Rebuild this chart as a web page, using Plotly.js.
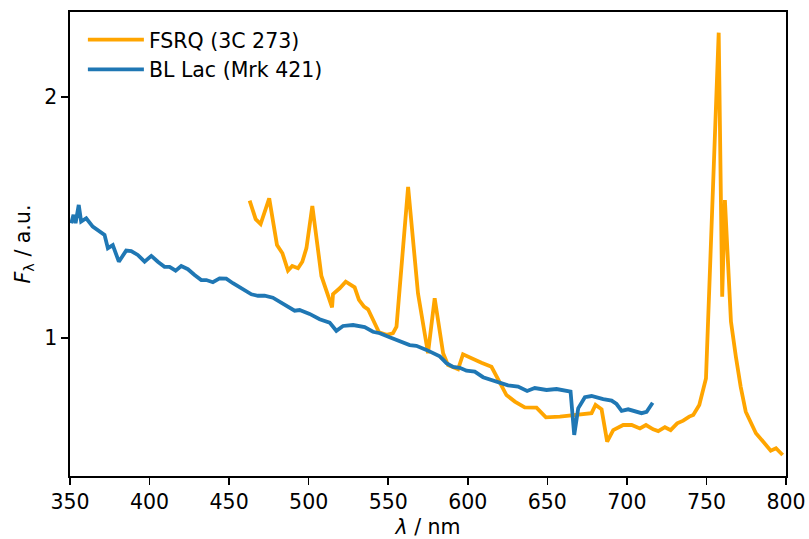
<!DOCTYPE html>
<html>
<head>
<meta charset="utf-8">
<script src="https://cdn.plot.ly/plotly-3.0.1.min.js"></script>
<style>html,body{margin:0;padding:0;background:#fff;}#chart{width:809px;height:539px;}</style>
</head>
<body>
<div id="chart"></div>
<script>
// BL Lac (Mrk 421)
const blWavelength = [350.75,352.2,353.5,354.3,355.5,357.0,360.2,364.3,367.5,371.7,373.8,376.9,380.7,385.3,388.5,392.6,396.9,401.1,405.2,409.4,412.6,416.4,419.9,424.1,428.3,432.5,435.7,439.8,444.0,448.2,452.4,456.6,459.7,464.0,468.1,472.3,477.5,481.8,487.0,491.2,494.3,500.6,506.9,513.2,517.4,521.6,527.9,535.2,540.4,544.7,550.9,557.2,563.5,567.7,574.0,582.4,586.6,590.8,595.0,599.2,604.4,609.6,613.8,620.1,625.3,631.6,637.3,642.1,649.5,655.8,661.0,664.6,666.9,669.4,673.6,677.8,685.1,690.4,693.5,696.7,700.8,705.0,709.2,712.4,716.2];
const blFlux = [1.476,1.511,1.477,1.517,1.552,1.483,1.497,1.462,1.448,1.428,1.373,1.386,1.317,1.363,1.361,1.345,1.317,1.341,1.317,1.296,1.296,1.280,1.299,1.286,1.262,1.241,1.241,1.232,1.248,1.247,1.228,1.211,1.200,1.182,1.176,1.176,1.168,1.151,1.128,1.114,1.117,1.101,1.079,1.065,1.031,1.051,1.055,1.046,1.027,1.021,1.004,0.986,0.972,0.969,0.952,0.925,0.897,0.882,0.878,0.866,0.862,0.839,0.830,0.816,0.805,0.800,0.782,0.794,0.786,0.790,0.782,0.779,0.600,0.710,0.756,0.761,0.748,0.742,0.728,0.700,0.706,0.696,0.690,0.696,0.733];

// FSRQ (3C 273)
const fsrqWavelength = [462.9,466.7,469.8,472.3,475.2,480.1,483.5,487.0,489.7,493.3,496.0,498.6,502.3,508.0,511.5,514.7,515.3,519.5,523.3,528.9,531.6,534.8,537.3,540.4,544.2,548.9,553.0,555.2,562.5,568.7,575.0,579.2,584.5,587.6,593.9,597.0,603.3,608.6,614.9,619.1,624.3,629.6,635.8,643.2,649.1,657.9,665.2,670.4,677.8,680.3,684.1,687.6,691.4,697.7,703.0,708.2,712.0,716.5,719.7,723.9,727.5,731.6,735.4,739.2,741.7,745.5,749.7,757.7,759.9,761.6,765.4,768.5,771.5,774.7,781.1,785.7,790.4,793.7,797.9];
const fsrqFlux = [1.570,1.493,1.473,1.520,1.579,1.386,1.352,1.280,1.299,1.290,1.317,1.373,1.548,1.258,1.186,1.128,1.183,1.207,1.234,1.211,1.159,1.131,1.120,1.076,1.025,1.014,1.021,1.048,1.627,1.186,0.938,1.166,0.938,0.889,0.872,0.934,0.914,0.899,0.882,0.827,0.765,0.738,0.714,0.713,0.673,0.676,0.680,0.685,0.690,0.724,0.706,0.572,0.620,0.641,0.641,0.627,0.641,0.623,0.616,0.632,0.620,0.648,0.659,0.676,0.683,0.724,0.834,2.265,1.172,1.572,1.069,0.924,0.800,0.696,0.607,0.572,0.535,0.545,0.517];

const xTickVals = [350,400,450,500,550,600,650,700,750,800];
const xTickText = ['350','400','450','500','550','600','650','700','750','800'];
const yTickVals = [1,2];
const yTickText = ['1','2'];

const font = {family: 'DejaVu Sans, sans-serif', size: 20.5, color: '#000'};

const traces = [
  {x: fsrqWavelength, y: fsrqFlux, type: 'scatter', mode: 'lines', name: 'FSRQ (3C 273)',
   line: {color: '#FFA500', width: 3.8}},
  {x: blWavelength, y: blFlux, type: 'scatter', mode: 'lines', name: 'BL Lac (Mrk 421)',
   line: {color: '#1f77b4', width: 3.8}}
];

const layout = {
  width: 809, height: 539,
  margin: {l: 70, r: 23, t: 12, b: 63},
  paper_bgcolor: '#fff', plot_bgcolor: '#fff',
  font: font,
  showlegend: true,
  legend: {x: 0.018, y: 0.983, xanchor: 'left', yanchor: 'top', bgcolor: 'rgba(0,0,0,0)',
           font: font, itemwidth: 56, tracegroupgap: 0, borderwidth: 0},
  xaxis: {
    range: [350, 800], tickvals: xTickVals, ticktext: xTickText,
    showgrid: false, zeroline: false, showline: true, linecolor: '#000', linewidth: 1.6,
    mirror: true, ticks: 'outside', ticklen: 7, tickwidth: 1.6, tickcolor: '#000',
    tickfont: font,
    title: {text: '<i>λ</i> / nm', font: font, standoff: 9}
  },
  yaxis: {
    range: [0.430, 2.3506], tickvals: yTickVals, ticktext: yTickText,
    showgrid: false, zeroline: false, showline: true, linecolor: '#000', linewidth: 1.6,
    mirror: true, ticks: 'outside', ticklen: 7, tickwidth: 1.6, tickcolor: '#000',
    tickfont: font,
    title: {text: '<i>F</i><sub>λ</sub> / a.u.', font: font, standoff: 8}
  }
};

Plotly.newPlot('chart', traces, layout, {displayModeBar: false, staticPlot: true});
</script>
</body>
</html>
